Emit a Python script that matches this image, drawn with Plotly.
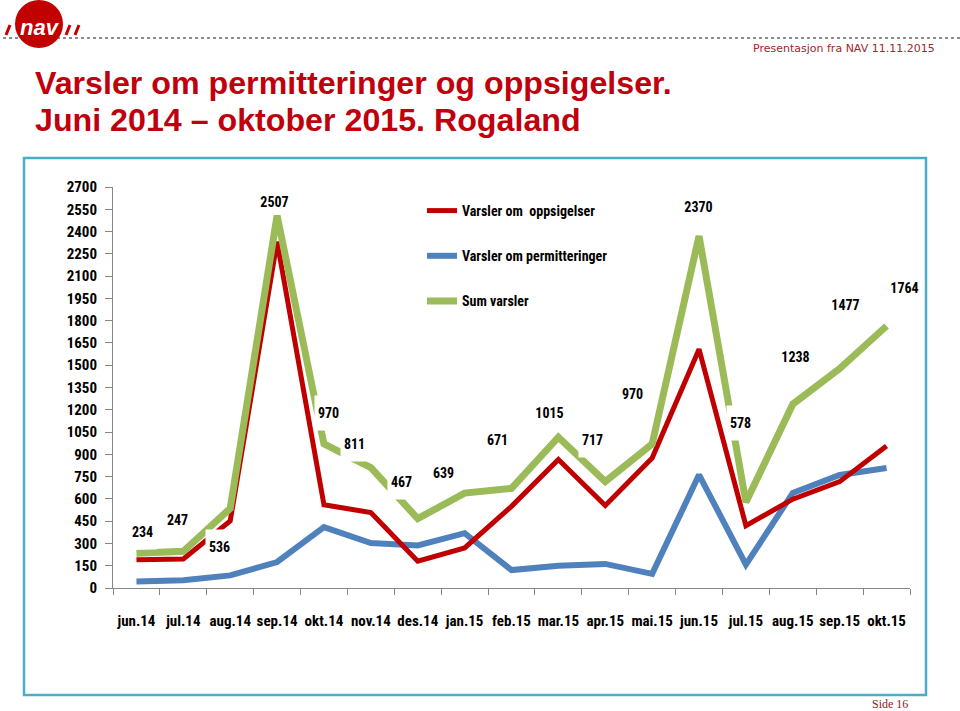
import plotly.graph_objects as go

# ---------------- data ----------------
months = ["jun.14", "jul.14", "aug.14", "sep.14", "okt.14", "nov.14", "des.14",
          "jan.15", "feb.15", "mar.15", "apr.15", "mai.15", "jun.15", "jul.15",
          "aug.15", "sep.15", "okt.15"]
oppsigelser = [190, 195, 451, 2332, 560, 508, 180, 270, 550, 865, 555, 875,
               1608, 420, 598, 716, 956]
permitteringer = [44, 52, 85, 175, 410, 303, 287, 369, 121, 150, 162, 95,
                  762, 158, 640, 761, 808]
sum_varsler = [234, 247, 536, 2507, 970, 811, 467, 639, 671, 1015, 717, 970,
               2370, 578, 1238, 1477, 1764]
y_ticks = list(range(0, 2701, 150))

# ---------------- styling ----------------
RED = "#c00000"
BLUE = "#4f81bd"
GREEN = "#9bbb59"
COND = "Roboto Condensed, Liberation Sans, Arial, sans-serif"
W, H = 960, 711
L, R, T, B = 113, 910, 187, 588   # plot area in pixels

# label offsets in pixels (relative to the data point), up = positive
label_dx = [6, -6, -11, -3, 5, -16, -16, -21, -14, -9, -13, -20, -1, -5, 3, 6, 18]
label_dy = [21, 31, -39, 14, 31, 24, 37, 20, 48, 24, 42, 50, 29, 79, 47, 64, 38]
label_box = [True] * len(months)
label_box[3] = False
LABEL_SIZE = 14


def pxx(x):
    return (x - L) / (R - L)


def pxy(y):
    return (B - y) / (B - T)


fig = go.Figure()
fig.add_trace(go.Scatter(x=months, y=permitteringer, mode="lines",
                         name="Varsler om permitteringer",
                         line=dict(color=BLUE, width=6), legendrank=2,
                         legendgroup="b"))
fig.add_trace(go.Scatter(x=months, y=oppsigelser, mode="lines",
                         name="Varsler om  oppsigelser",
                         line=dict(color=RED, width=5), legendrank=1,
                         legendgroup="a"))
fig.add_trace(go.Scatter(x=months, y=sum_varsler, mode="lines",
                         name="Sum varsler",
                         line=dict(color=GREEN, width=7), legendrank=3,
                         legendgroup="c"))

annotations = []
for i, (m, v) in enumerate(zip(months, sum_varsler)):
    txt = str(v)
    annotations.append(dict(
        x=m, y=v, xref="x", yref="y", text=txt, showarrow=False,
        xshift=label_dx[i], yshift=label_dy[i],
        font=dict(family=COND, size=LABEL_SIZE, color="black", weight="bold"),
        bgcolor="white" if label_box[i] else "rgba(0,0,0,0)",
        width=round(len(txt) * 0.556 * LABEL_SIZE) + 4, height=34, borderpad=0,
    ))

# header texts
TITLE_FONT = dict(family="Liberation Sans, Arial, sans-serif", size=32.2,
                  color="#c0000c", weight="bold")
annotations += [
    dict(x=pxx(33), y=pxy(83.5), xref="paper", yref="paper", xanchor="left",
         yanchor="middle", showarrow=False,
         text="Varsler om permitteringer og oppsigelser.", font=TITLE_FONT),
    dict(x=pxx(33), y=pxy(119.5), xref="paper", yref="paper", xanchor="left",
         yanchor="middle", showarrow=False,
         text="Juni 2014 \u2013 oktober 2015. Rogaland", font=TITLE_FONT),
    dict(x=pxx(937), y=pxy(49), xref="paper", yref="paper", xanchor="right",
         yanchor="middle", showarrow=False,
         text="Presentasjon fra NAV 11.11.2015",
         font=dict(family="DejaVu Sans, Verdana, sans-serif", size=11,
                   color="#a3262b")),
    dict(x=pxx(40), y=pxy(28), xref="paper", yref="paper", xanchor="center",
         yanchor="middle", showarrow=False, text="<i>nav</i>",
         font=dict(family="Liberation Sans, Arial, sans-serif", size=22,
                   color="white", weight="bold")),
    dict(x=pxx(890), y=pxy(704), xref="paper", yref="paper", xanchor="center",
         yanchor="middle", showarrow=False, text="Side 16",
         font=dict(family="Liberation Serif, Times New Roman, serif", size=12,
                   color="#8b1a1a")),
]

shapes = [
    # dotted header rule
    dict(type="line", xref="paper", yref="paper", x0=pxx(3), x1=pxx(960),
         y0=pxy(38), y1=pxy(38), line=dict(color="#8c8c8c", width=2, dash="dot")),
    # logo circle
    dict(type="circle", xref="paper", yref="paper", x0=pxx(15), x1=pxx(63),
         y0=pxy(0), y1=pxy(48), fillcolor="#c30000", line=dict(width=0)),
    # logo slashes
    dict(type="line", xref="paper", yref="paper", x0=pxx(6), x1=pxx(10),
         y0=pxy(35), y1=pxy(25), line=dict(color="#c30000", width=3)),
    dict(type="line", xref="paper", yref="paper", x0=pxx(66), x1=pxx(70),
         y0=pxy(35), y1=pxy(25), line=dict(color="#c30000", width=3)),
    dict(type="line", xref="paper", yref="paper", x0=pxx(75), x1=pxx(79),
         y0=pxy(35), y1=pxy(25), line=dict(color="#c30000", width=3)),
    # chart frame
    dict(type="rect", xref="paper", yref="paper", x0=pxx(24), x1=pxx(926),
         y0=pxy(158), y1=pxy(695), line=dict(color="#4bacc6", width=2.5),
         layer="below"),
]

fig.update_layout(
    width=W, height=H, autosize=False,
    margin=dict(l=L, r=W - R, t=T, b=H - B, pad=0),
    paper_bgcolor="white", plot_bgcolor="white",
    showlegend=True,
    legend=dict(x=pxx(422), y=pxy(195), xanchor="left", yanchor="top",
                traceorder="grouped", tracegroupgap=24, itemwidth=30,
                bgcolor="rgba(0,0,0,0)",
                font=dict(family=COND, size=14, color="black", weight="bold")),
    annotations=annotations,
    shapes=shapes,
    xaxis=dict(type="category", range=[-0.5, len(months) - 0.5],
               showgrid=False, showline=True, linecolor="#868686", linewidth=1,
               ticks="outside", tickson="boundaries", ticklen=6,
               tickcolor="#868686", ticklabelstandoff=19, tickangle=0,
               tickfont=dict(family=COND, size=15, color="black", weight="bold"),
               zeroline=False),
    yaxis=dict(range=[0, 2700], tickvals=y_ticks, showgrid=False,
               showline=True, linecolor="#868686", linewidth=1,
               ticks="outside", ticklen=7, tickcolor="#868686",
               ticklabelstandoff=5,
               tickfont=dict(family=COND, size=15, color="black", weight="bold"),
               zeroline=False),
)

fig.write_html("out.html")
